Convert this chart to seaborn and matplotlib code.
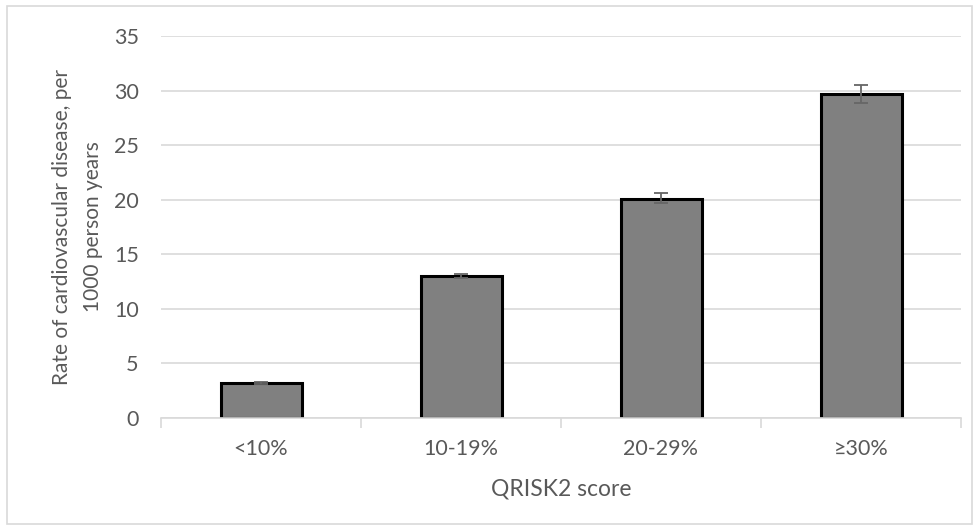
import matplotlib
matplotlib.use("Agg")
import matplotlib.pyplot as plt
import seaborn as sns
import pandas as pd
from matplotlib.patches import Rectangle

# Cardiovascular disease rate by QRISK2 score band
categories = ["<10%", "10-19%", "20-29%", "≥30%"]
rates = [3.2, 13.0, 20.1, 29.7]
ci_low = [3.1, 12.8, 19.7, 28.9]
ci_high = [3.3, 13.2, 20.6, 30.5]
y_ticks = [0, 5, 10, 15, 20, 25, 30, 35]

df = pd.DataFrame({"score": categories, "rate": rates})

sns.set_theme(style="white")
plt.rcParams["font.family"] = ["Lato", "DejaVu Sans"]

text_col = "#595959"
grid_col = "#d9d9d9"

fig = plt.figure(figsize=(9.79, 5.31), dpi=100)
ax = fig.add_axes([161 / 979, 1 - 418 / 531, 800 / 979, 382 / 531])

sns.barplot(data=df, x="score", y="rate", color="#808080", width=0.405,
            edgecolor="black", linewidth=2.2, saturation=1, errorbar=None, ax=ax)

lower = [r - lo for r, lo in zip(rates, ci_low)]
upper = [hi - r for r, hi in zip(rates, ci_high)]
ax.errorbar(range(len(categories)), rates, yerr=[lower, upper], fmt="none",
            ecolor="#666666", elinewidth=1.3, capsize=5, capthick=1.3, zorder=5)

ax.set_xlim(-0.5, len(categories) - 0.5)
ax.set_ylim(0, 35)
ax.set_yticks(y_ticks)
ax.yaxis.grid(True, color=grid_col, linewidth=1.2)
ax.set_axisbelow(True)

for side in ["top", "right", "left"]:
    ax.spines[side].set_visible(False)
ax.spines["bottom"].set_color(grid_col)
ax.spines["bottom"].set_linewidth(1.2)

# category boundary ticks on the x axis
ax.set_xticks([-0.5, 0.5, 1.5, 2.5, 3.5], minor=True)
ax.tick_params(axis="x", which="minor", length=7, width=1.2, color=grid_col,
               bottom=True)
ax.tick_params(axis="x", which="major", length=0, pad=15, labelsize=15.5,
               labelcolor=text_col)
ax.tick_params(axis="y", length=0, pad=16, labelsize=15.5, labelcolor=text_col)

ax.set_xlabel("QRISK2 score", fontsize=16.5, color=text_col, labelpad=14)
ax.set_ylabel("Rate of cardiovascular disease, per\n1000 person years",
              fontsize=15, color=text_col, labelpad=8, linespacing=1.65)

# light frame around the whole chart area
fig.patches.append(Rectangle((7 / 979, 7 / 531), 965 / 979, 518 / 531,
                             transform=fig.transFigure, fill=False,
                             edgecolor=grid_col, linewidth=1.2))

fig.savefig("out.png", dpi=100)
